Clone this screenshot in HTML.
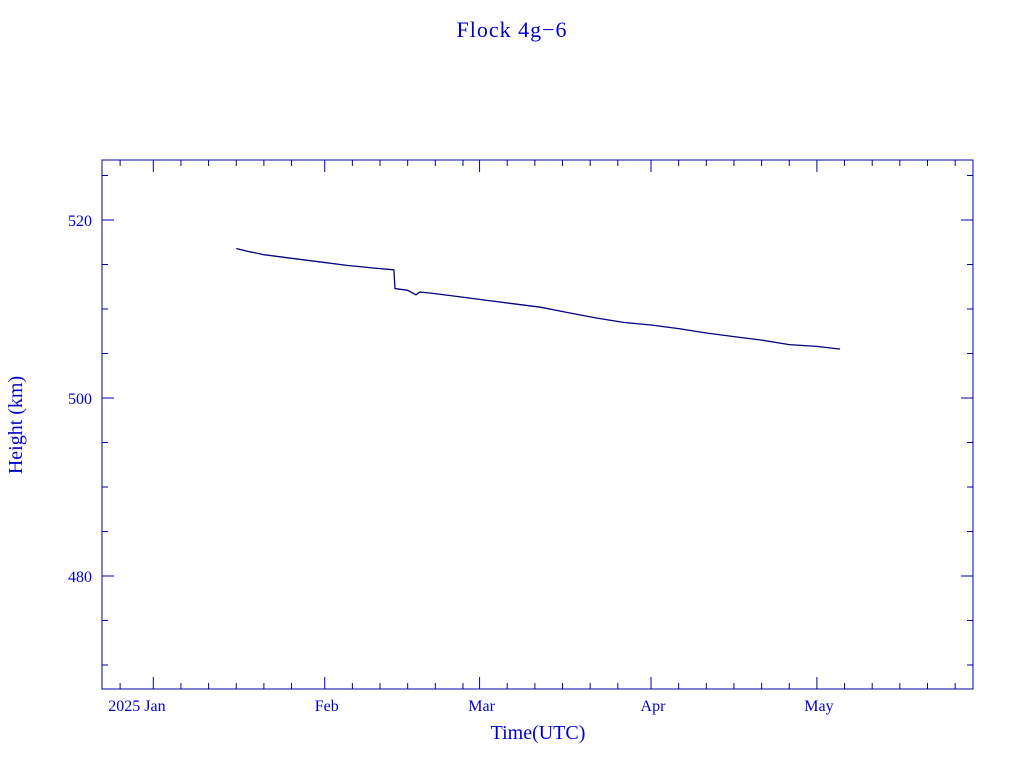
<!DOCTYPE html>
<html><head><meta charset="utf-8"><style>
body{margin:0;background:#fff;}
svg{display:block;font-family:"Liberation Serif",serif;}
</style></head><body>
<svg id="chart" width="1024" height="768" xmlns="http://www.w3.org/2000/svg">
<text x="512" y="37" text-anchor="middle" font-size="22" fill="#0000cc" letter-spacing="1">Flock 4g−6</text>
<rect x="102" y="160" width="871" height="529" fill="none" stroke="#0000aa" stroke-width="1"/>
<g id="axes"></g>
<text x="538" y="739" text-anchor="middle" font-size="20" fill="#0000cc">Time(UTC)</text>
<text transform="translate(22,425) rotate(-90)" text-anchor="middle" font-size="20" fill="#0000cc">Height (km)</text>
<path id="series" fill="none" stroke="#000080" stroke-width="1.3"/>
</svg>
<script>
const days=[15,17,20,25,30,35,40,43.5,43.7,46,47.5,48.2,50,55,60,65,70,75,80,85,90,95,100,105,110,115,120,124.2];
const heights=[516.8,516.5,516.1,515.7,515.3,514.9,514.6,514.4,512.3,512.1,511.6,511.9,511.8,511.4,511.0,510.6,510.2,509.6,509.0,508.5,508.2,507.8,507.3,506.9,506.5,506.0,505.8,505.5];
const monthDays=[0,31,59,90,120];
const monthLabels=["2025 Jan","Feb","Mar","Apr","May"];
const yMajor=[480,500,520];
const yMinor=[470,475,485,490,495,505,510,515,525];
const X0=102,X1=973,Y0=160,Y1=689;
const xs=d=>153.3+d*5.53;
const ys=v=>398-(v-500)*8.9;
const ns="http://www.w3.org/2000/svg";
const g=document.getElementById('axes');
const C="#0000aa";
function line(x1,y1,x2,y2,name){const l=document.createElementNS(ns,'line');
l.setAttribute('x1',x1);l.setAttribute('y1',y1);l.setAttribute('x2',x2);l.setAttribute('y2',y2);l.setAttribute('stroke',C);


g.appendChild(l);}
function text(x,y,s,anchor,name){const t=document.createElementNS(ns,'text');
t.setAttribute('x',x);t.setAttribute('y',y);t.setAttribute('text-anchor',anchor);t.setAttribute('font-size','16');t.setAttribute('fill','#0000cc');t.textContent=s;


g.appendChild(t);}
// x ticks
monthDays.forEach((d,i)=>{const x=xs(d);line(x,Y1,x,Y1-12,'x-major-tick');line(x,Y0,x,Y0+12,'x-major-tick-top');
 text(i==0?x-45:x+2,711,monthLabels[i],i==0?'start':'middle','x-tick-label');});
const starts=[-6,0,31,59,90,120];
for(let m=1;m<starts.length;m++){for(let d=starts[m]+5;d<(starts[m+1]??160)-2;d+=5){const x=xs(d);if(x>X0&&x<X1){line(x,Y1,x,Y1-6,'x-minor-tick');line(x,Y0,x,Y0+6,'x-minor-tick-top');}}}
line(xs(-6),Y1,xs(-6),Y1-6,'x-minor-tick');line(xs(-6),Y0,xs(-6),Y0+6,'x-minor-tick-top');
yMajor.forEach(v=>{const y=ys(v);line(X0,y,X0+12,y,'y-major-tick');line(X1,y,X1-12,y,'y-major-tick-right');text(92,y+6,String(v),'end','y-tick-label');});
yMinor.forEach(v=>{const y=ys(v);line(X0,y,X0+6,y,'y-minor-tick');line(X1,y,X1-6,y,'y-minor-tick-right');});
document.getElementById('series').setAttribute('d',days.map((d,i)=>(i?'L':'M')+xs(d).toFixed(1)+' '+ys(heights[i]).toFixed(1)).join(' '));
</script>
</body></html>
